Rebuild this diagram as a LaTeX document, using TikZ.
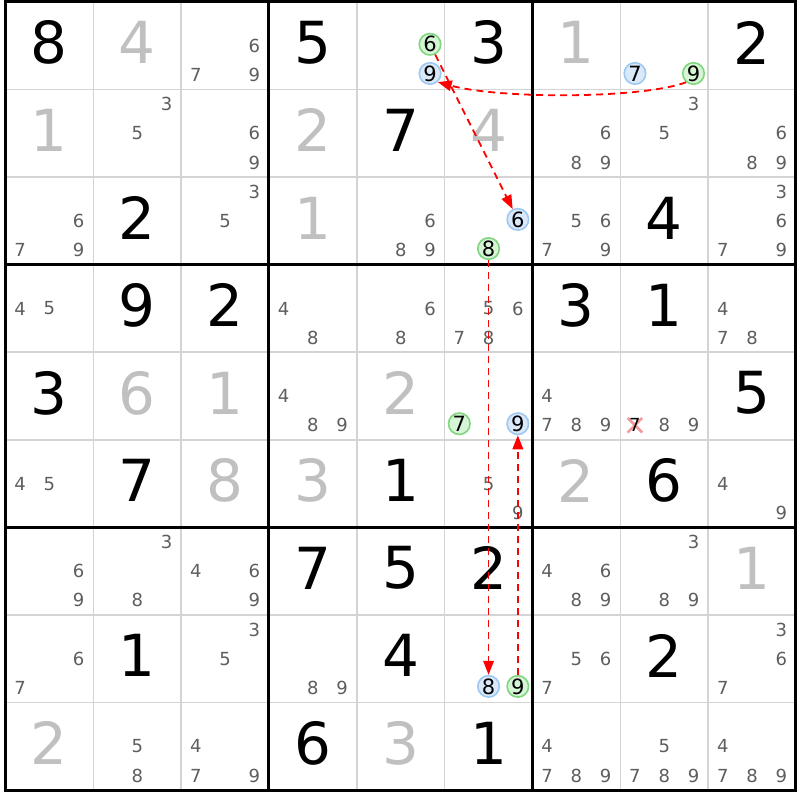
\documentclass[tikz,border=0pt]{standalone}
\usepackage{fontspec}
\setmainfont{DejaVu Sans}
\usetikzlibrary{arrows.meta,shapes.misc}
\definecolor{candgray}{HTML}{5E5E5E}
\definecolor{givengray}{HTML}{C0C0C0}
\definecolor{thingrid}{HTML}{D4D4D4}
\definecolor{hlgreen}{HTML}{7FD67F}
\definecolor{hlgreenfill}{HTML}{D6F5D6}
\definecolor{hlblue}{HTML}{9CC8F2}
\definecolor{hlbluefill}{HTML}{D9E9FA}
\definecolor{linkred}{HTML}{FF0000}
\definecolor{xred}{HTML}{F49A9A}
\def\XO{5.5}
\def\YO{2}
\def\CW{87.83}
\def\CH{87.56}
\tikzset{
  bigdigit/.style={font=\fontsize{58}{60}\selectfont, inner sep=0pt},
  bk/.style={text=black},
  gy/.style={text=givengray},
  cand/.style={font=\fontsize{18}{20}\selectfont, inner sep=0pt, text=candgray},
  hl/.style={circle, inner sep=0pt, minimum size=21.5pt, line width=1.6pt,
    font=\fontsize{21}{22}\selectfont, text=black},
  hlg/.style={hl, draw=hlgreen, fill=hlgreenfill},
  hlb/.style={hl, draw=hlblue, fill=hlbluefill},
  thinline/.style={draw=thingrid, line width=1.5pt},
  thickline/.style={draw=black, line width=3pt, line cap=rect},
  link/.style={draw=linkred, line width=1.8pt, dash pattern=on 7pt off 5pt,
    -{Triangle[length=14pt,width=10.5pt]}},
  crossmark/.style={cross out, draw=xred, line width=2.5pt, minimum size=12pt, inner sep=0pt}
}
\begin{document}
\begin{tikzpicture}[x=1pt,y=-1pt]
\useasboundingbox (0,0) rectangle (800,800);
\fill[white] (0,0) rectangle (800,800);
% thin grid lines
\foreach \i in {1,2,4,5,7,8} {
  \draw[thinline] ({\XO+\CW*\i},\YO) -- ({\XO+\CW*\i},{\YO+9*\CH});
  \draw[thinline] (\XO,{\YO+\CH*\i}) -- ({\XO+9*\CW},{\YO+\CH*\i});
}
% thick grid lines
\foreach \i in {0,3,6,9} {
  \draw[thickline] ({\XO+\CW*\i},\YO) -- ({\XO+\CW*\i},{\YO+9*\CH});
  \draw[thickline] (\XO,{\YO+\CH*\i}) -- ({\XO+9*\CW},{\YO+\CH*\i});
}
% big digits
\foreach \r/\c/\d/\k in {0/0/8/bk, 0/1/4/gy, 0/3/5/bk, 0/5/3/bk, 0/6/1/gy, 0/8/2/bk,
  1/0/1/gy, 1/3/2/gy, 1/4/7/bk, 1/5/4/gy,
  2/1/2/bk, 2/3/1/gy, 2/7/4/bk,
  3/1/9/bk, 3/2/2/bk, 3/6/3/bk, 3/7/1/bk,
  4/0/3/bk, 4/1/6/gy, 4/2/1/gy, 4/4/2/gy, 4/8/5/bk,
  5/1/7/bk, 5/2/8/gy, 5/3/3/gy, 5/4/1/bk, 5/6/2/gy, 5/7/6/bk,
  6/3/7/bk, 6/4/5/bk, 6/5/2/bk, 6/8/1/gy,
  7/1/1/bk, 7/4/4/bk, 7/7/2/bk,
  8/0/2/gy, 8/3/6/bk, 8/4/3/gy, 8/5/1/bk} {
  \node[bigdigit,\k] (v\r\c) at ({\XO+\CW*(\c+0.5)},{\YO+\CH*(\r+0.5)-3}) {\d};
}
% candidates
\foreach \r/\c/\lst in {0/2/{6,7,9},
  1/1/{3,5}, 1/2/{6,9}, 1/6/{6,8,9}, 1/7/{3,5}, 1/8/{6,8,9},
  2/0/{6,7,9}, 2/2/{3,5}, 2/4/{6,8,9}, 2/6/{5,6,7,9}, 2/8/{3,6,7,9},
  3/0/{4,5}, 3/3/{4,8}, 3/4/{6,8}, 3/5/{5,6,7,8}, 3/8/{4,7,8},
  4/3/{4,8,9}, 4/6/{4,7,8,9}, 4/7/{8,9},
  5/0/{4,5}, 5/5/{5,9}, 5/8/{4,9},
  6/0/{6,9}, 6/1/{3,8}, 6/2/{4,6,9}, 6/6/{4,6,8,9}, 6/7/{3,8,9},
  7/0/{6,7}, 7/2/{3,5}, 7/3/{8,9}, 7/6/{5,6,7}, 7/8/{3,6,7},
  8/1/{5,8}, 8/2/{4,7,9}, 8/6/{4,7,8,9}, 8/7/{5,7,8,9}, 8/8/{4,7,8,9}} {
  \foreach \n in \lst {
    \pgfmathtruncatemacro\sr{(\n-1)/3}
    \pgfmathtruncatemacro\sc{\n-1-3*\sr}
    \node[cand] (k\r\c\n) at ({\XO+\CW*(\c+(\sc+0.5)/3)},{\YO+\CH*(\r+(\sr+0.5)/3)}) {\n};
  }
}
% eliminated candidate
\node[crossmark] (x477) at ({\XO+\CW*(7+0.5/3)},{\YO+\CH*(4+2.5/3)}) {};
\node[cand, text=black] (k477) at ({\XO+\CW*(7+0.5/3)},{\YO+\CH*(4+2.5/3)}) {7};
% highlighted candidates
\foreach \nm/\r/\c/\n/\k in {g046/0/4/6/hlg, b049/0/4/9/hlb, b077/0/7/7/hlb, g079/0/7/9/hlg,
  b256/2/5/6/hlb, g258/2/5/8/hlg, g457/4/5/7/hlg, b459/4/5/9/hlb,
  b758/7/5/8/hlb, g759/7/5/9/hlg} {
  \pgfmathtruncatemacro\sr{(\n-1)/3}
  \pgfmathtruncatemacro\sc{\n-1-3*\sr}
  \node[\k] (\nm) at ({\XO+\CW*(\c+(\sc+0.5)/3)},{\YO+\CH*(\r+(\sr+0.5)/3)-1.5}) {\n};
}
% links
\draw[link] (g079.-130) .. controls (640,99) and (500,99) .. (b049.-48);
\draw[link] (g046) -- (b256);
\draw[link] (g258) -- (b758);
\draw[link] (g759) -- (b459);
\end{tikzpicture}
\end{document}
